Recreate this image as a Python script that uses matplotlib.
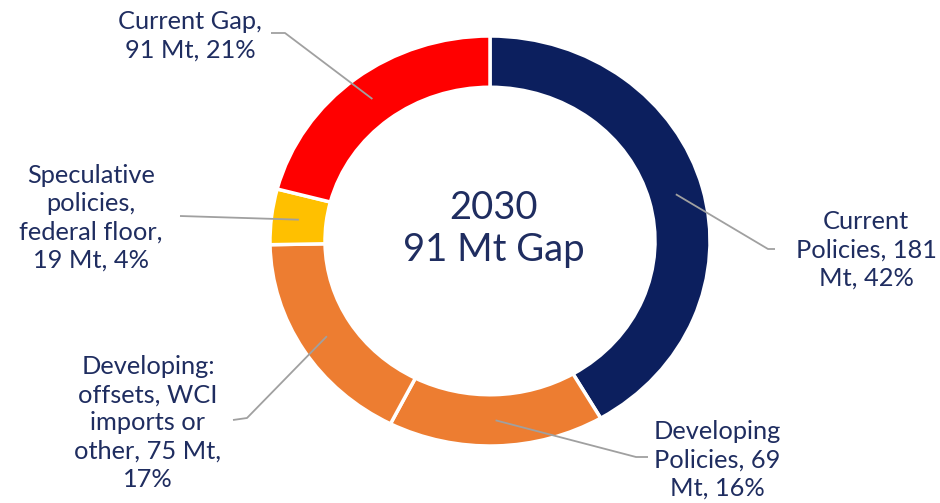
import matplotlib
matplotlib.use("Agg")
import matplotlib.pyplot as plt
import numpy as np

# ---- data ----
categories = ["Current Policies", "Developing Policies",
              "Developing: offsets, WCI imports or other",
              "Speculative policies, federal floor", "Current Gap"]
values = [181, 69, 75, 19, 91]
labels = ["Current\nPolicies, 181\nMt, 42%",
          "Developing\nPolicies, 69\nMt, 16%",
          "Developing:\noffsets, WCI\nimports or\nother, 75 Mt,\n17%",
          "Speculative\npolicies,\nfederal floor,\n19 Mt, 4%",
          "Current Gap,\n91 Mt, 21%"]
colors = ["#0C1F5E", "#ED7D31", "#ED7D31", "#FFC000", "#FF0000"]
center_text = "2030\n91 Mt Gap"

TEXT_COLOR = "#1F2D60"
LINE_COLOR = "#A0A0A0"
FONT = ["Lato", "DejaVu Sans"]

W, H = 940, 503
fig = plt.figure(figsize=(W / 100, H / 100), dpi=100)
ax = fig.add_axes([0, 0, 1, 1])

# pixel -> data mapping (ring slightly elliptical as in the reference)
CX, CY, RX, RY = 490, 241, 220, 205
def px(x, y):
    return (x - CX) / RX, (CY - y) / RY

width = 0.25
wedges, _ = ax.pie(values, colors=colors, startangle=90, counterclock=False,
                   radius=1.0, wedgeprops=dict(width=width, edgecolor="white",
                                               linewidth=2.5))
ax.set_aspect("auto")
ax.set_xlim((0 - CX) / RX, (W - CX) / RX)
ax.set_ylim((CY - H) / RY, CY / RY)
ax.axis("off")

# label layout (pixel positions): text center, leader start, optional corner
layout = [
    dict(text=(866, 250), start=(775, 249), corner=(768, 249)),
    dict(text=(717, 460), start=(648, 457), corner=(636, 457)),
    dict(text=(148, 423), start=(233, 420), corner=(247, 418)),
    dict(text=(91, 218), start=(180, 216), corner=None),
    dict(text=(190, 36), start=(271, 33), corner=(285, 33)),
]

r_mid = 1.0 - width / 2
for w, lab, lay in zip(wedges, labels, layout):
    ang = np.deg2rad((w.theta1 + w.theta2) / 2)
    ex, ey = r_mid * np.cos(ang), r_mid * np.sin(ang)
    pts = [px(*lay["start"])]
    if lay["corner"] is not None:
        pts.append(px(*lay["corner"]))
    pts.append((ex, ey))
    xs, ys = zip(*pts)
    ax.plot(xs, ys, color=LINE_COLOR, lw=1.3, solid_capstyle="butt", zorder=3)
    tx, ty = px(*lay["text"])
    ax.text(tx, ty, lab, ha="center", va="center", multialignment="center",
            fontsize=18.3, color=TEXT_COLOR, family=FONT, linespacing=1.28)

cx, cy = px(494, 229)
ax.text(cx, cy, center_text, ha="center", va="center", multialignment="center",
        fontsize=27.5, color=TEXT_COLOR, family=FONT, linespacing=1.2)

fig.savefig("out.png", dpi=100)
